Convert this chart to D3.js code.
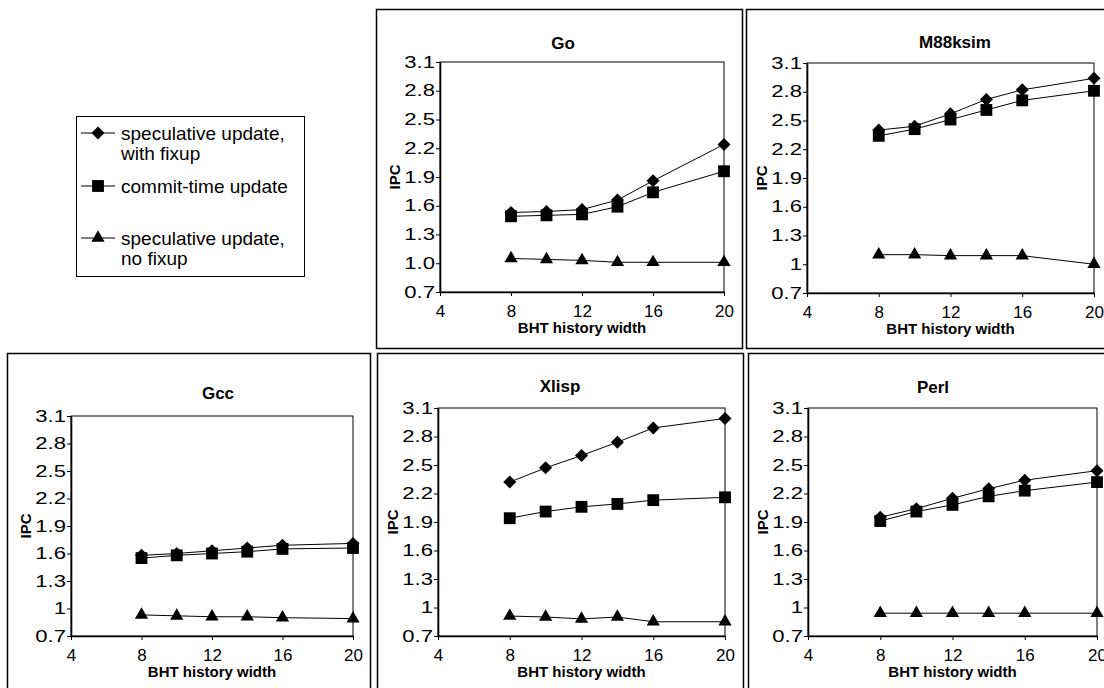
<!DOCTYPE html>
<html>
<head>
<meta charset="utf-8">
<script src="https://cdn.jsdelivr.net/npm/d3@7"></script>
<style>
    html, body { margin: 0; padding: 0; background: #fff; }
    svg { display: block; font-family: 'Liberation Sans', Arial, sans-serif; }
</style>
</head>
<body>
<svg id="chart" width="1104" height="688"></svg>
<script>
'use strict';

// データ
const historyWidths = [8, 10, 12, 14, 16, 20];
const seriesNames = [['speculative update,', 'with fixup'], ['commit-time update'], ['speculative update,', 'no fixup']];
const benchmarks = ['Go', 'M88ksim', 'Gcc', 'Xlisp', 'Perl'];

const goFixup = [1.53, 1.54, 1.56, 1.66, 1.86, 2.24];
const goCommit = [1.49, 1.50, 1.51, 1.59, 1.74, 1.96];
const goNoFixup = [1.05, 1.04, 1.03, 1.01, 1.01, 1.01];

const m88Fixup = [2.40, 2.44, 2.57, 2.72, 2.82, 2.94];
const m88Commit = [2.34, 2.41, 2.51, 2.61, 2.71, 2.81];
const m88NoFixup = [1.10, 1.10, 1.09, 1.09, 1.09, 1.00];

const gccFixup = [1.58, 1.60, 1.63, 1.66, 1.69, 1.71];
const gccCommit = [1.55, 1.58, 1.60, 1.62, 1.65, 1.66];
const gccNoFixup = [0.93, 0.92, 0.91, 0.91, 0.90, 0.89];

const xlispFixup = [2.32, 2.47, 2.60, 2.74, 2.89, 2.99];
const xlispCommit = [1.94, 2.01, 2.06, 2.09, 2.13, 2.16];
const xlispNoFixup = [0.91, 0.90, 0.88, 0.90, 0.85, 0.85];

const perlFixup = [1.95, 2.04, 2.15, 2.25, 2.34, 2.44];
const perlCommit = [1.91, 2.01, 2.08, 2.17, 2.23, 2.32];
const perlNoFixup = [0.94, 0.94, 0.94, 0.94, 0.94, 0.94];

const xTicks = [4, 8, 12, 16, 20];
const yTicks = [0.7, 1.0, 1.3, 1.6, 1.9, 2.2, 2.5, 2.8, 3.1];
const yTickLabelsGo = ['0.7', '1.0', '1.3', '1.6', '1.9', '2.2', '2.5', '2.8', '3.1'];
const yTickLabels = ['0.7', '1', '1.3', '1.6', '1.9', '2.2', '2.5', '2.8', '3.1'];

const panelSeries = [
    [goFixup, goCommit, goNoFixup],
    [m88Fixup, m88Commit, m88NoFixup],
    [gccFixup, gccCommit, gccNoFixup],
    [xlispFixup, xlispCommit, xlispNoFixup],
    [perlFixup, perlCommit, perlNoFixup]
];
const panelTickLabels = [yTickLabelsGo, yTickLabels, yTickLabels, yTickLabels, yTickLabels];

// 各パネルの配置（枠・プロット領域・タイトル位置）
const layout = [
    { box: [376, 9, 366, 339], plot: [440, 62, 724, 292], title: [563, 43] },
    { box: [746, 9, 380, 339], plot: [807, 63, 1094, 293], title: [955, 42] },
    { box: [7, 353, 363, 350], plot: [71, 416, 353, 636], title: [218, 393] },
    { box: [377, 353, 366, 350], plot: [438, 408, 725, 636], title: [560, 386] },
    { box: [748, 353, 380, 350], plot: [808, 408, 1097, 636], title: [933, 387] }
];

const svg = d3.select('#chart');

// マーカー（菱形は正方形を45度回転）
const markerPath = [
    d3.symbol().type(d3.symbolSquare).size(84)(),
    d3.symbol().type(d3.symbolSquare).size(140)(),
    d3.symbol().type(d3.symbolTriangle).size(76)()
];
const markerRotate = [45, 0, 0];

const drawMarker = (g, i, x, y) => {
    g.append('path')
        .attr('d', markerPath[i])
        .attr('transform', `translate(${x},${y}) rotate(${markerRotate[i]})`)
        .attr('fill', '#000');
};

benchmarks.forEach((name, p) => {
    const L = layout[p];
    const [bx, by, bw, bh] = L.box;
    const [x0, y0, x1, y1] = L.plot;

    svg.append('rect')
        .attr('x', bx + 0.5).attr('y', by + 0.5)
        .attr('width', bw).attr('height', bh)
        .attr('fill', 'none').attr('stroke', '#000').attr('stroke-width', 1.5);

    const x = d3.scaleLinear().domain([4, 20]).range([x0, x1]);
    const y = d3.scaleLinear().domain([0.7, 3.1]).range([y1, y0]);
    const g = svg.append('g');

    // プロット枠
    g.append('rect')
        .attr('x', x0).attr('y', y0)
        .attr('width', x1 - x0).attr('height', y1 - y0)
        .attr('fill', 'none').attr('stroke', '#000').attr('stroke-width', 1);

    const labels = panelTickLabels[p];
    const yAxis = g.append('g')
        .attr('transform', `translate(${x0},0)`)
        .call(d3.axisLeft(y).tickValues(yTicks).tickSize(4).tickSizeOuter(0)
            .tickFormat((d, i) => labels[i]));
    const xAxis = g.append('g')
        .attr('transform', `translate(0,${y1})`)
        .call(d3.axisBottom(x).tickValues(xTicks).tickSize(4).tickSizeOuter(0));
    [yAxis, xAxis].forEach(a => {
        a.select('.domain').attr('stroke', '#000').attr('stroke-width', 1.6);
        a.selectAll('.tick line').attr('stroke', '#000');
        a.selectAll('.tick text')
            .attr('fill', '#000')
            .attr('font-family', null);
    });
    // 元図では縦軸目盛ラベルが横長
    yAxis.selectAll('.tick text')
        .attr('font-size', '16px')
        .attr('x', 0)
        .attr('transform', 'translate(-5,0) scale(1.38,1)');
    xAxis.selectAll('.tick text')
        .attr('font-size', '17px')
        .attr('y', 13);

    // タイトル・軸ラベル
    svg.append('text')
        .attr('x', L.title[0]).attr('y', L.title[1] + 6)
        .attr('text-anchor', 'middle')
        .attr('font-size', '17px').attr('font-weight', 'bold')
        .text(name);
    svg.append('text')
        .attr('x', (x0 + x1) / 2).attr('y', y1 + 41)
        .attr('text-anchor', 'middle')
        .attr('font-size', '15px').attr('font-weight', 'bold')
        .text('BHT history width');
    svg.append('text')
        .attr('transform', `translate(${x0 - 40},${(y0 + y1) / 2}) rotate(-90)`)
        .attr('text-anchor', 'middle')
        .attr('font-size', '15px').attr('font-weight', 'bold')
        .text('IPC');

    // 系列
    const line = d3.line()
        .x((d, i) => x(historyWidths[i]))
        .y(d => y(d));
    panelSeries[p].forEach((vals, s) => {
        g.append('path')
            .attr('d', line(vals))
            .attr('fill', 'none')
            .attr('stroke', '#000')
            .attr('stroke-width', 1);
        vals.forEach((v, i) => drawMarker(g, s, x(historyWidths[i]), y(v)));
    });
});

// 凡例
const legend = svg.append('g');
legend.append('rect')
    .attr('x', 76.5).attr('y', 116.5).attr('width', 228).attr('height', 160)
    .attr('fill', 'none').attr('stroke', '#000').attr('stroke-width', 1);
const legendY = [133, 186, 238];
seriesNames.forEach((lines, s) => {
    const ly = legendY[s];
    legend.append('line')
        .attr('x1', 81).attr('x2', 115).attr('y1', ly).attr('y2', ly)
        .attr('stroke', '#000').attr('stroke-width', 1);
    drawMarker(legend, s, 98, ly);
    lines.forEach((t, k) => {
        legend.append('text')
            .attr('x', 121).attr('y', ly + 20 * k + 7)
            .attr('font-size', '19px')
            .text(t);
    });
});
</script>
</body>
</html>
